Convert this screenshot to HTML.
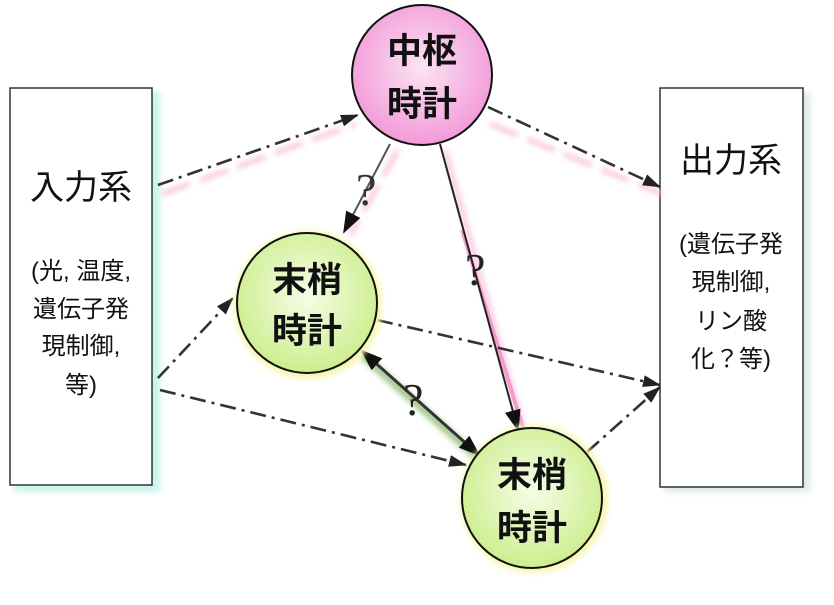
<!DOCTYPE html>
<html><head><meta charset="utf-8"><style>
body{margin:0;background:#fff;}
svg text{font-family:"Liberation Sans","Noto Sans CJK JP",sans-serif;}
svg text.q{font-family:"Liberation Serif",serif;font-size:46px;}
</style></head><body>
<svg width="834" height="600" viewBox="0 0 834 600" xmlns="http://www.w3.org/2000/svg">
<defs>
<marker id="a" markerWidth="18" markerHeight="12" refX="17" refY="6" orient="auto" markerUnits="userSpaceOnUse" viewBox="0 0 18 12"><path d="M0,0 L18,6 L0,12 Z" fill="#222"/></marker>
<marker id="b" markerWidth="22" markerHeight="16" refX="20" refY="8" orient="auto" markerUnits="userSpaceOnUse" viewBox="0 0 22 16"><path d="M0,0 L22,8 L0,16 Z" fill="#111"/></marker>
<marker id="bs" markerWidth="22" markerHeight="16" refX="2" refY="8" orient="auto" markerUnits="userSpaceOnUse" viewBox="0 0 22 16"><path d="M22,0 L0,8 L22,16 Z" fill="#111"/></marker>
<radialGradient id="pk" cx="50%" cy="45%" r="55%"><stop offset="0" stop-color="#fbe4f4"/><stop offset="1" stop-color="#f29ad8"/></radialGradient>
<radialGradient id="gr" cx="50%" cy="45%" r="55%"><stop offset="0" stop-color="#f6fde8"/><stop offset="1" stop-color="#cdee8e"/></radialGradient>
<filter id="bl"><feGaussianBlur stdDeviation="3"/></filter>
</defs>
<rect x="14" y="92" width="146" height="400" fill="#c8f4ec" filter="url(#bl)"/>
<rect x="664" y="92" width="146" height="400" fill="#dfe9e8" filter="url(#bl)"/>
<rect x="10" y="88" width="142" height="397" fill="#fff" stroke="#333" stroke-width="1.5"/>
<rect x="660" y="88" width="143" height="399" fill="#fff" stroke="#333" stroke-width="1.5"/>
<g stroke="#f8b8d8" stroke-width="4" filter="url(#bl)" fill="none" stroke-dasharray="30,10">
<line x1="162" y1="194" x2="356" y2="124"/>
<line x1="490" y1="124" x2="662" y2="194"/>
<line x1="398" y1="150" x2="350" y2="235"/>
</g>
<line x1="445" y1="150" x2="523" y2="428" stroke="#f8b8d8" stroke-width="4" filter="url(#bl)"/>
<line x1="462" y1="230" x2="523" y2="428" stroke="#f070b8" stroke-width="4" opacity="0.6"/>
<line x1="362" y1="355" x2="478" y2="458" stroke="#5a9a2a" stroke-width="7" opacity="0.6" filter="url(#bl)"/>
<g stroke="#333" stroke-width="2.6" fill="none" stroke-dasharray="16,6,3,6">
<line x1="158" y1="185" x2="358" y2="115" marker-end="url(#a)"/>
<line x1="488" y1="107" x2="660" y2="187" marker-end="url(#a)"/>
<line x1="158" y1="378" x2="233" y2="298" marker-end="url(#a)"/>
<line x1="160" y1="390" x2="466" y2="465" marker-end="url(#a)"/>
<line x1="377" y1="320" x2="660" y2="385" marker-end="url(#a)"/>
<line x1="587" y1="452" x2="660" y2="387" marker-end="url(#a)"/>
</g>
<line x1="390" y1="144" x2="344" y2="232" stroke="#555" stroke-width="2" marker-end="url(#b)"/>
<line x1="440" y1="144" x2="518" y2="430" stroke="#222" stroke-width="2" marker-end="url(#b)"/>
<line x1="362" y1="351" x2="479" y2="455" stroke="#333" stroke-width="3" marker-start="url(#bs)" marker-end="url(#b)"/>
<text class="q" x="356" y="205" fill="#333">?</text>
<text class="q" x="465" y="285" fill="#222">?</text>
<text class="q" x="403" y="415" fill="#222">?</text>
<circle cx="308" cy="305" r="74" fill="#f6f6b0" filter="url(#bl)"/>
<circle cx="534" cy="499" r="74" fill="#f6f6b0" filter="url(#bl)"/>
<circle cx="422" cy="75" r="70" fill="url(#pk)" stroke="#111" stroke-width="2"/>
<circle cx="307" cy="303" r="70" fill="url(#gr)" stroke="#111" stroke-width="2"/>
<circle cx="532" cy="498" r="70" fill="url(#gr)" stroke="#111" stroke-width="2"/>
<g style="font-size:35px;font-weight:bold" text-anchor="middle" fill="#111">
<text x="422" y="63">中枢</text><text x="422" y="116">時計</text>
<text x="307" y="292">末梢</text><text x="307" y="343">時計</text>
<text x="532" y="487">末梢</text><text x="532" y="540">時計</text>
</g>
<g text-anchor="middle" fill="#111">
<text x="81" y="199" style="font-size:34px">入力系</text>
<text x="81" y="279" style="font-size:24px">(光, 温度,</text>
<text x="81" y="317" style="font-size:24px">遺伝子発</text>
<text x="81" y="354" style="font-size:24px">現制御,</text>
<text x="81" y="393" style="font-size:24px">等)</text>
<text x="731" y="172" style="font-size:34px">出力系</text>
<text x="731" y="252" style="font-size:24px">(遺伝子発</text>
<text x="731" y="290" style="font-size:24px">現制御,</text>
<text x="731" y="329" style="font-size:24px">リン酸</text>
<text x="731" y="367" style="font-size:24px">化？等)</text>
</g>
</svg>
</body></html>
